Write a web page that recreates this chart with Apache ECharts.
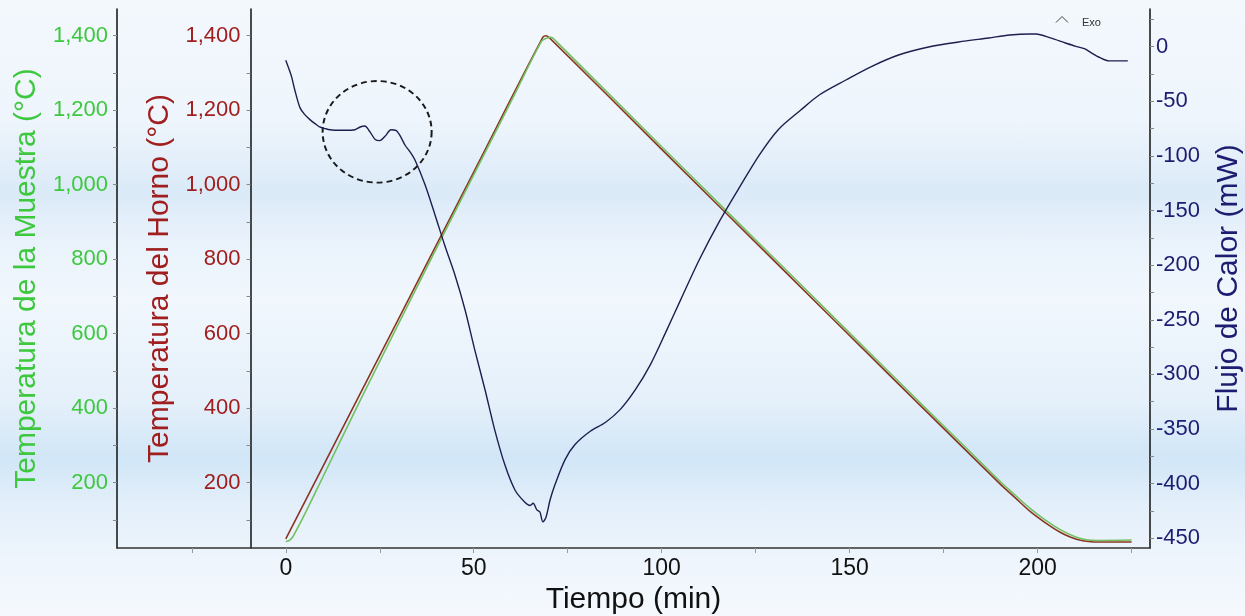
<!DOCTYPE html>
<html>
<head>
<meta charset="utf-8">
<script src="https://cdn.jsdelivr.net/npm/echarts@6/dist/echarts.min.js"></script>
<style>
html,body{margin:0;padding:0;width:1245px;height:616px;overflow:hidden;}
body{background:linear-gradient(to bottom,#f3f8fd 0px,#eef5fc 120px,#dbeaf8 192px,#e9f2fb 240px,#f1f7fd 300px,#e5f0fa 400px,#d1e6f7 458px,#e3effa 505px,#eef5fc 560px,#f5f9fe 616px);}
#c{width:1245px;height:616px;}
</style>
</head>
<body>
<div id="c"></div>
<script>
// ---- data ----
const furnaceTime = [0, 10, 30, 50, 68.4, 69.3, 70.3, 100, 130, 160, 190, 194, 198, 202, 206, 209, 212, 215, 225];
const furnaceTemp = [49, 246, 640, 1034, 1396, 1400, 1393, 1095, 795, 495, 197, 160, 123, 93, 67, 53, 44, 41, 41];

const sampleTime = [0, 1, 2, 4, 6, 10, 20, 40, 60, 68, 69.5, 70.6, 72, 100, 130, 160, 190, 194, 198, 202, 206, 210, 213, 216, 225];
const sampleTemp = [42, 45, 57, 95, 135, 218, 425, 828, 1225, 1385, 1394, 1396, 1384, 1102, 802, 502, 204, 167, 131, 100, 74, 55, 47, 45, 46];

const flowTime = [0, 0.8, 1.5, 2.5, 3.8, 5, 6.5, 8, 9, 10.5, 11.8, 14, 15.8, 18.4, 19.8, 21, 22.4, 23.8, 25, 26.4, 28, 29.3, 30.5, 31.7, 33, 34.4, 37, 39.7, 42.3, 45, 47.7, 50.3, 53, 55.6, 58.3, 61, 63.6, 65, 65.8, 66.8, 67.6, 68.4, 69.2, 70.3, 71.6, 74.3, 77, 81, 85, 89, 93, 97, 101, 105, 110, 115.5, 121, 126, 131, 137, 142, 149, 155.5, 163, 171, 179, 187, 192.6, 198, 199.6, 203.4, 207.4, 210, 212.6, 214, 216.6, 219, 224];
const flowValue = [-12.5, -20, -27, -41, -56, -62, -67, -71, -73.5, -75, -76, -76.5, -76.5, -76, -73.5, -72.6, -78, -85, -86, -82, -76, -76.5, -82, -90, -96, -104, -126, -154, -182, -209, -241, -278, -314, -351, -383, -406, -417, -420, -418, -424, -426, -435, -431, -415, -401, -378, -364, -352, -344, -332, -314, -291, -262, -232, -195, -159, -127, -99, -76, -58, -44, -30.5, -18.6, -7.6, -0.3, 4.3, 8, 10.7, 11.6, 11.6, 8, 3.4, 0.5, -2, -5, -10, -13, -13];

const xTicks = [-25, 0, 25, 50, 75, 100, 125, 150, 175, 200, 225];
const xLabels = [0, 50, 100, 150, 200];
const tempTicks = [100, 200, 300, 400, 500, 600, 700, 800, 900, 1000, 1100, 1200, 1300, 1400];
const tempLabels = [200, 400, 600, 800, 1000, 1200, 1400];
const flowTicks = [-450, -425, -400, -375, -350, -325, -300, -275, -250, -225, -200, -175, -150, -125, -100, -75, -50, -25, 0, 25];
const flowLabels = [-450, -400, -350, -300, -250, -200, -150, -100, -50, 0];

const zip = (a, b) => a.map((v, i) => [v, b[i]]);
const FONT = 'Liberation Sans, Arial, sans-serif';
const GREEN = '#3ec83e', RED = '#a01e1e', NAVY = '#1c1c70';

const chart = echarts.init(document.getElementById('c'), null, {renderer: 'canvas'});
function yAx(opts) {
  return Object.assign({
    type: 'value',
    nameLocation: 'middle',
    nameRotate: 90,
    splitLine: {show: false},
    axisLine: {show: true, onZero: false, lineStyle: {color: '#111', width: 1.5}},
  }, opts);
}
chart.setOption({
  animation: false,
  backgroundColor: 'transparent',
  grid: {left: 117, right: 95, top: 9, bottom: 68, containLabel: false, outerBoundsMode: 'none'},
  xAxis: {
    type: 'value', min: -44.9, max: 229.9,
    name: 'Tiempo (min)', nameLocation: 'middle', nameGap: 35,
    nameTextStyle: {color: '#111', fontSize: 30, fontFamily: FONT},
    splitLine: {show: false},
    axisLine: {onZero: false, lineStyle: {color: '#333', width: 1.5}},
    axisTick: {customValues: xTicks, length: 5, lineStyle: {color: '#999'}},
    axisLabel: {customValues: xLabels, color: '#111', fontSize: 23, fontFamily: FONT, margin: 9}
  },
  yAxis: [
    yAx({
      position: 'left', offset: 0, min: 24.7, max: 1471.7,
      name: 'Temperatura de la Muestra (°C)', nameGap: 72,
      nameTextStyle: {color: GREEN, fontSize: 30, fontFamily: FONT},
      axisTick: {show: true, customValues: tempTicks, length: 4, lineStyle: {color: '#888'}},
      axisLabel: {customValues: tempLabels, color: GREEN, fontSize: 22, fontFamily: FONT, margin: 9,
        formatter: v => Number(v).toLocaleString('en-US')}
    }),
    yAx({
      position: 'left', offset: -133.5, min: 24.7, max: 1471.7,
      name: 'Temperatura del Horno (°C)', nameGap: 74,
      nameTextStyle: {color: RED, fontSize: 30, fontFamily: FONT},
      axisTick: {show: true, customValues: tempTicks, length: 4, lineStyle: {color: '#888'}},
      axisLabel: {customValues: tempLabels, color: RED, fontSize: 22, fontFamily: FONT, margin: 10,
        formatter: v => Number(v).toLocaleString('en-US')}
    }),
    yAx({
      position: 'right', offset: 0, min: -458.9, max: 34.5,
      name: 'Flujo de Calor (mW)', nameGap: 64,
      nameTextStyle: {color: NAVY, fontSize: 30, fontFamily: FONT},
      axisTick: {show: true, customValues: flowTicks, length: 4, lineStyle: {color: '#888'}},
      axisLabel: {customValues: flowLabels, color: NAVY, fontSize: 22, fontFamily: FONT, margin: 6}
    })
  ],
  series: [
    {type: 'line', name: 'Horno', yAxisIndex: 1, data: zip(furnaceTime, furnaceTemp), showSymbol: false, smooth: 0.3,
      lineStyle: {color: '#8a3424', width: 1.6}},
    {type: 'line', name: 'Muestra', yAxisIndex: 0, data: zip(sampleTime, sampleTemp), showSymbol: false, smooth: 0.3,
      lineStyle: {color: '#74c060', width: 1.6}},
    {type: 'line', name: 'Flujo', yAxisIndex: 2, data: zip(flowTime, flowValue), showSymbol: false, smooth: 0.3,
      lineStyle: {color: '#1e1e4e', width: 1.4}}
  ]
});

// annotations placed in data coordinates
const ctr = chart.convertToPixel({xAxisIndex: 0, yAxisIndex: 2}, [24.3, -77.9]);
chart.setOption({
  graphic: [
    {type: 'circle', x: ctr[0], y: ctr[1], scaleY: 0.932,
      shape: {cx: 0, cy: 0, r: 54.5},
      style: {fill: 'none', stroke: '#1a1a1a', lineWidth: 2, lineDash: [6, 4]}},
    {type: 'polyline', shape: {points: [[1056, 22.5], [1062, 16.5], [1068, 22.5]]},
      style: {fill: 'none', stroke: '#444', lineWidth: 1}},
    {type: 'text', x: 1082, y: 22.5,
      style: {text: 'Exo', fill: '#333', fontSize: 11, fontFamily: FONT, textVerticalAlign: 'middle'}}
  ]
});
</script>
</body>
</html>
